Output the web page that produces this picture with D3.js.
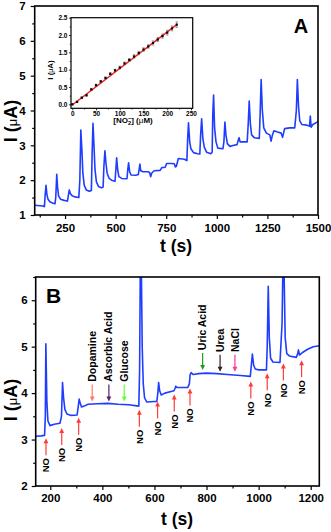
<!DOCTYPE html>
<html><head><meta charset="utf-8">
<script src="https://cdn.jsdelivr.net/npm/d3@7/dist/d3.min.js"></script>
<style>body{margin:0;background:#fff}svg{display:block}text{font-family:"Liberation Sans",Arial,sans-serif}</style>
</head><body><svg id="c" width="331" height="532"></svg>
<script>
// ---------- Panel A data ----------
const tA = [100,140,148,152,156,160,166,175,190,200,204,209,213,218,228,245,262,266,271,276,285,300,318,323,328,333,338,345,355,370,380,384,388,393,398,405,415,430,438,442,447,452,458,468,480,497,501,505,510,516,530,556,560,564,569,576,600,612,616,620,624,635,660,668,673,678,690,720,728,745,752,775,790,795,800,810,840,852,856,860,866,872,885,905,916,920,925,931,938,950,970,977,980,984,989,996,1005,1030,1035,1040,1045,1052,1065,1085,1100,1106,1110,1115,1135,1150,1155,1160,1166,1172,1185,1210,1214,1219,1225,1232,1245,1262,1268,1275,1282,1300,1318,1325,1335,1360,1385,1393,1398,1404,1410,1420,1445,1458,1462,1466,1475,1500];
const iA = [1.28,1.26,1.24,1.6,1.85,1.6,1.45,1.38,1.34,1.32,1.5,2.17,1.8,1.55,1.45,1.42,1.40,1.55,1.72,1.62,1.55,1.52,1.5,2.0,3.44,2.9,2.2,1.85,1.72,1.68,1.7,2.8,3.63,3.0,2.3,1.95,1.82,1.78,1.8,2.4,2.84,2.5,2.2,2.05,2.0,1.97,2.3,2.64,2.3,2.1,2.05,2.04,2.3,2.5,2.25,2.15,2.14,2.16,2.3,2.46,2.27,2.24,2.24,2.22,2.1,2.2,2.27,2.28,2.36,2.37,2.48,2.48,2.47,2.38,2.4,2.62,2.6,2.56,3.2,3.65,3.1,2.9,2.79,2.76,2.75,3.3,3.76,3.2,2.95,2.8,2.76,2.8,3.9,4.44,3.5,3.1,2.92,2.9,3.1,3.67,3.3,3.05,2.97,3.0,3.02,3.15,3.22,3.1,3.1,3.1,3.6,4.27,3.6,3.3,3.22,3.2,3.9,4.89,4.0,3.5,3.35,3.3,3.12,3.3,3.42,3.38,3.35,3.23,3.48,3.5,3.5,4.0,4.89,4.1,3.7,3.6,3.58,3.55,3.84,3.52,3.6,3.68];
const aXTicks = [250,500,750,1000,1250,1500];
const aYTicks = [1,2,3,4,5,6,7];

// ---------- Inset data ----------
const conc = [0,10,20,30,40,50,60,70,80,90,100,110,120,130,140,150,160,170,180,190,200,210,220];
const curr = [0.0,0.07,0.19,0.26,0.43,0.55,0.66,0.76,0.88,0.98,1.06,1.18,1.28,1.38,1.48,1.58,1.67,1.77,1.87,1.97,2.07,2.19,2.3];
const errs = [0.02,0.02,0.02,0.02,0.03,0.03,0.03,0.03,0.03,0.03,0.04,0.04,0.04,0.05,0.05,0.05,0.05,0.06,0.06,0.06,0.07,0.07,0.08];
const fitX = [0,220];
const fitY = [-0.02,2.3];
const inXTicks = [0,50,100,150,200,250];
const inYTicks = [0,0.5,1.0,1.5,2.0,2.5];

// ---------- Panel B data ----------
const tB = [144,165,178,181,183,187,191,199,215,237,243,247,251,256,264,280,303,307,311,315,320,330,345,380,420,460,500,540,543,546,550,553,557,562,570,600,609,613,616,620,626,640,660,675,679,682,686,705,728,734,737,741,748,770,800,840,880,930,968,972,976,981,987,1000,1030,1033,1037,1041,1046,1055,1082,1090,1094,1098,1102,1108,1118,1145,1150,1153,1157,1170,1190,1210,1233];
const iB = [3.07,3.08,3.09,3.5,5.06,3.8,3.4,3.3,3.33,3.35,3.5,4.23,3.9,3.65,3.55,3.52,3.53,3.7,3.87,3.78,3.7,3.72,3.76,3.77,3.78,3.76,3.75,3.72,4.5,7.0,6.5,5.0,4.2,3.9,3.81,3.82,3.82,4.0,4.23,4.05,3.96,4.0,4.03,4.05,4.1,4.15,4.12,4.12,4.12,4.2,4.4,4.44,4.4,4.42,4.43,4.42,4.4,4.38,4.36,4.6,4.84,4.6,4.52,4.5,4.5,5.0,6.3,5.2,4.75,4.67,4.66,5.5,7.0,6.5,5.2,4.85,4.8,4.77,4.85,4.93,4.82,4.88,4.95,5.0,5.02];
const bXTicks = [200,400,600,800,1000,1200];
const bYTicks = [2,3,4,5,6];
const noTimes = [183.5,244,309,542,612,676,736.5,970,1033,1095,1165];
const noTips = [3.03,3.25,3.47,3.64,3.82,3.97,4.10,4.25,4.43,4.64,4.71];
const intNames = ["Dopamine","Ascorbic Acid","Glucose","Uric Acid","Urea","NaCl"];
const intTimes = [361,425,484,785,852,909];
const intTips = [3.82,3.82,3.82,4.50,4.46,4.46];
const intColors = ["#ff7a66","#5c1f6e","#66ff33","#1f9a1f","#3a1c1c","#ff3399"];

const svg = d3.select("#c");
const blue = "#1f3dff";

function axes(g, x, y, o) {
  const y0 = y.range()[0], x0 = x.range()[0];
  const style = (sel, fs) => {
    sel.select(".domain").remove();
    sel.selectAll(".tick line").attr("stroke","#000").attr("stroke-width",o.tw);
    sel.selectAll(".tick text").attr("fill","#000").attr("font-size",fs).attr("font-weight","bold");
  };
  g.append("g").attr("transform",`translate(0,${y0})`)
    .call(d3.axisBottom(x).tickValues(o.xMinor).tickSize(o.mt).tickFormat("")).call(s=>style(s,o.fs));
  g.append("g").attr("transform",`translate(${x0},0)`)
    .call(d3.axisLeft(y).tickValues(o.yMinor).tickSize(o.mt).tickFormat("")).call(s=>style(s,o.fs));
  g.append("g").attr("transform",`translate(0,${y0})`)
    .call(d3.axisBottom(x).tickValues(o.xMajor).tickSize(o.t).tickPadding(o.px).tickFormat(o.xf)).call(s=>style(s,o.fs));
  g.append("g").attr("transform",`translate(${x0},0)`)
    .call(d3.axisLeft(y).tickValues(o.yMajor).tickSize(o.t).tickPadding(o.py).tickFormat(o.yf)).call(s=>style(s,o.fs));
  g.append("rect").attr("x",x0).attr("y",y.range()[1])
    .attr("width",x.range()[1]-x0).attr("height",y0-y.range()[1])
    .attr("fill","none").attr("stroke","#000").attr("stroke-width",o.sw);
}

function yLabel(g, x, y, big, small) {
  const t = g.append("text").attr("transform",`translate(${x},${y}) rotate(-90)`)
    .attr("text-anchor","middle").attr("font-weight","bold").attr("font-size",big).attr("fill","#000");
  t.append("tspan").text("I (");
  t.append("tspan").attr("font-size",small).attr("font-weight","normal").text("μ");
  t.append("tspan").text("A)");
}

// ================= Panel A =================
const xA = d3.scaleLinear().domain([100,1500]).range([34.7,318]);
const yA = d3.scaleLinear().domain([1,7]).range([215,6]);
const gA = svg.append("g");
gA.append("clipPath").attr("id","clipA").append("rect")
  .attr("x",34.7).attr("y",6).attr("width",318-34.7).attr("height",209);
gA.append("path").datum(tA.map((t,i)=>[t,iA[i]]))
  .attr("clip-path","url(#clipA)")
  .attr("d",d3.line().x(d=>xA(d[0])).y(d=>yA(d[1])))
  .attr("fill","none").attr("stroke",blue).attr("stroke-width",1.6).attr("stroke-linejoin","round");
axes(gA, xA, yA, {
  xMajor:aXTicks, xMinor:[125,375,625,875,1125,1375], yMajor:aYTicks, yMinor:[1.5,2.5,3.5,4.5,5.5,6.5],
  t:4, mt:2.5, px:5, py:5, fs:11.5, tw:1.2, sw:1.6, xf:d3.format("d"), yf:d3.format("d")
});
gA.append("text").attr("x",176).attr("y",251.5).attr("text-anchor","middle")
  .attr("font-size",17.5).attr("font-weight","bold").text("t (s)");
yLabel(gA, 16.5, 121, 18, 13);
gA.append("text").attr("x",301).attr("y",33).attr("text-anchor","middle")
  .attr("font-size",20).attr("font-weight","bold").text("A");

// ---------- Inset ----------
const xI = d3.scaleLinear().domain([-2.7,253.6]).range([71,192.7]);
const yI = d3.scaleLinear().domain([-0.115,2.5]).range([108.3,17.7]);
const gI = svg.append("g");
gI.append("rect").attr("x",71).attr("y",17.7).attr("width",121.7).attr("height",90.6).attr("fill","#fff");
gI.append("line").attr("x1",xI(fitX[0])).attr("y1",yI(fitY[0])).attr("x2",xI(fitX[1])).attr("y2",yI(fitY[1]))
  .attr("stroke","#ff1a1a").attr("stroke-width",1.5);
const eb = gI.append("g").attr("stroke","#777").attr("stroke-width",0.7);
conc.forEach((c,i)=>{
  const x = xI(c), y1 = yI(curr[i]-errs[i]), y2 = yI(curr[i]+errs[i]);
  eb.append("line").attr("x1",x).attr("x2",x).attr("y1",y1).attr("y2",y2);
  eb.append("line").attr("x1",x-1.3).attr("x2",x+1.3).attr("y1",y1).attr("y2",y1);
  eb.append("line").attr("x1",x-1.3).attr("x2",x+1.3).attr("y1",y2).attr("y2",y2);
});
gI.selectAll("rect.pt").data(conc).join("rect").attr("class","pt")
  .attr("x",(d)=>xI(d)-1.1).attr("y",(d,i)=>yI(curr[i])-1.1).attr("width",2.2).attr("height",2.2).attr("fill","#000");
axes(gI, xI, yI, {
  xMajor:inXTicks, xMinor:[25,75,125,175,225], yMajor:inYTicks, yMinor:[0.25,0.75,1.25,1.75,2.25],
  t:2, mt:1.2, px:1.5, py:1.5, fs:6.5, tw:0.8, sw:1.2, xf:d3.format("d"), yf:d3.format(".1f")
});
const xt = gI.append("text").attr("x",133).attr("y",123).attr("text-anchor","middle")
  .attr("font-size",8).attr("font-weight","bold");
xt.append("tspan").text("[NO");
xt.append("tspan").attr("font-size",5.5).attr("dy",2).text("2");
xt.append("tspan").attr("font-size",5.5).attr("dy",-5).attr("dx",-3).text("−");
xt.append("tspan").attr("dy",3).text("] (");
xt.append("tspan").attr("font-weight","normal").text("μ");
xt.append("tspan").text("M)");
yLabel(gI, 53, 70, 8, 7);

// ================= Panel B =================
const xB = d3.scaleLinear().domain([144,1233]).range([35.7,319.3]);
const yB = d3.scaleLinear().domain([2,6.5]).range([486,277]);
const gB = svg.append("g");
gB.append("clipPath").attr("id","clipB").append("rect")
  .attr("x",35.7).attr("y",277).attr("width",319.3-35.7).attr("height",209);
gB.append("path").datum(tB.map((t,i)=>[t,iB[i]]))
  .attr("clip-path","url(#clipB)")
  .attr("d",d3.line().x(d=>xB(d[0])).y(d=>yB(d[1])))
  .attr("fill","none").attr("stroke",blue).attr("stroke-width",1.6).attr("stroke-linejoin","round");
axes(gB, xB, yB, {
  xMajor:bXTicks, xMinor:[300,500,700,900,1100], yMajor:bYTicks, yMinor:[2.5,3.5,4.5,5.5,6.5],
  t:4, mt:2.5, px:4, py:4, fs:11.5, tw:1.2, sw:1.6, xf:d3.format("d"), yf:d3.format("d")
});
gB.append("text").attr("x",177).attr("y",524.5).attr("text-anchor","middle")
  .attr("font-size",17.5).attr("font-weight","bold").text("t (s)");
yLabel(gB, 16.5, 400, 18, 13);
gB.append("text").attr("x",46).attr("y",303)
  .attr("font-size",21).attr("font-weight","bold").text("B");

// NO arrows (pointing up)
const ar = gB.append("g");
noTimes.forEach((t,i)=>{
  const x = xB(t), tip = yB(noTips[i]), tail = tip + 17;
  ar.append("line").attr("x1",x).attr("x2",x).attr("y1",tip+4).attr("y2",tail)
    .attr("stroke","#ff3b3b").attr("stroke-width",1.2);
  ar.append("path").attr("d",`M${x},${tip}L${x-2.4},${tip+5}L${x+2.4},${tip+5}Z`).attr("fill","#ff3b3b");
  ar.append("text").attr("transform",`translate(${x+3.4},${tail+10}) rotate(-90)`)
    .attr("text-anchor","middle").attr("font-size",9.5).attr("font-weight","bold").text("NO");
});
// interferent arrows (pointing down)
intNames.forEach((n,i)=>{
  const x = xB(intTimes[i]), tip = yB(intTips[i]), tail = tip - 17, col = intColors[i];
  ar.append("line").attr("x1",x).attr("x2",x).attr("y1",tail).attr("y2",tip-4)
    .attr("stroke",col).attr("stroke-width",1.2);
  ar.append("path").attr("d",`M${x},${tip}L${x-2.4},${tip-5}L${x+2.4},${tip-5}Z`).attr("fill",col);
  ar.append("text").attr("transform",`translate(${x+3.6},${tail-2.7}) rotate(-90)`)
    .attr("text-anchor","start").attr("font-size",10.5).attr("font-weight","bold").text(n);
});
</script>
</body></html>
